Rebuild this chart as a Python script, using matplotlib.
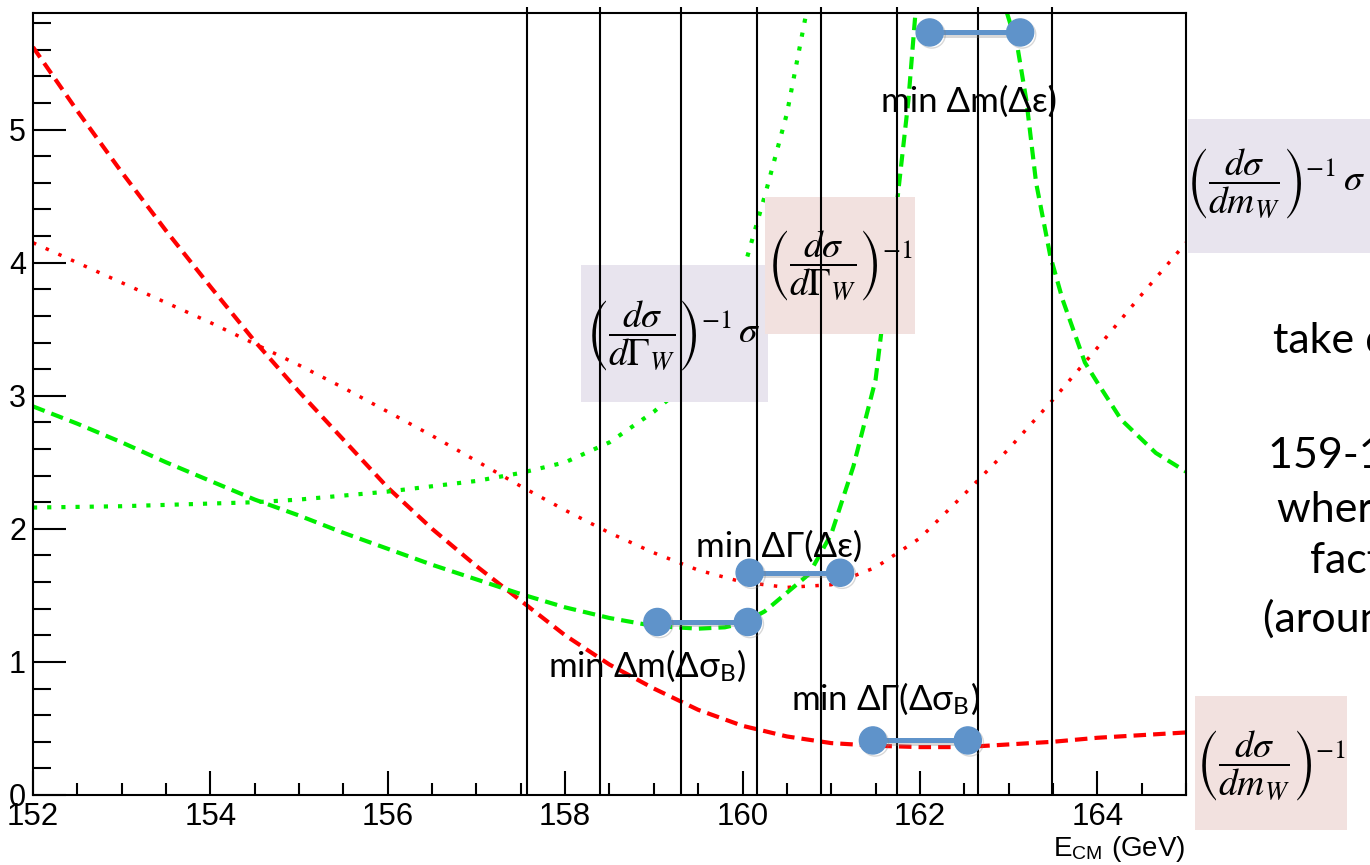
import numpy as np
import matplotlib.pyplot as plt
from matplotlib.patches import Rectangle
import matplotlib.patheffects as pe

plt.rcParams['mathtext.fontset'] = 'stix'

# (d sigma / d m_W)^-1  -- red dashed
x_red_dash = [152, 152.5, 153, 153.5, 154, 154.5, 155, 155.5, 156, 156.5, 157, 157.5, 158,
              158.5, 159, 159.5, 160, 160.5, 161, 161.5, 162, 162.5, 163, 163.5, 164, 164.5, 165]
y_red_dash = [5.62, 5.14, 4.68, 4.24, 3.82, 3.41, 3.03, 2.67, 2.31, 2.00, 1.72, 1.46, 1.20,
              0.98, 0.80, 0.64, 0.52, 0.44, 0.39, 0.37, 0.36, 0.36, 0.38, 0.40, 0.43, 0.45, 0.47]

# (d sigma / d Gamma_W)^-1  -- red dotted
x_red_dot = [152, 152.5, 153, 153.5, 154, 154.5, 155, 155.5, 156, 156.5, 157, 157.5, 158,
             158.5, 159, 159.5, 160, 160.5, 161, 161.5, 162, 162.5, 163, 163.5, 164, 164.5, 165]
y_red_dot = [4.15, 4.00, 3.85, 3.70, 3.55, 3.39, 3.23, 3.06, 2.88, 2.70, 2.51, 2.32, 2.14,
             1.97, 1.82, 1.69, 1.60, 1.56, 1.58, 1.71, 1.93, 2.26, 2.60, 2.97, 3.36, 3.76, 4.15]

# (d sigma / d Gamma_W)^-1 sigma  -- green dotted
x_green_dot = [152, 153, 154, 154.5, 155, 155.5, 156, 156.5, 157, 157.5, 158, 158.5, 159,
               159.25, 159.5, 159.75, 160, 160.25, 160.5, 160.72]
y_green_dot = [2.16, 2.17, 2.19, 2.20, 2.22, 2.25, 2.28, 2.32, 2.36, 2.42, 2.50, 2.65, 2.88,
               3.02, 3.25, 3.55, 3.92, 4.50, 5.12, 5.88]

# (d sigma / d m_W)^-1 sigma  -- green dashed (goes off the top between ~162 and ~163)
x_green_dash = [152, 152.5, 153, 153.5, 154, 154.5, 155, 155.5, 156, 156.5, 157, 157.5, 158,
                158.5, 159, 159.5, 159.8, 160, 160.25, 160.5, 160.75, 161.0, 161.25, 161.5,
                161.75, 161.87, 161.95, 162.5, 162.98, 163.1, 163.2, 163.31, 163.47, 163.61,
                163.86, 164.0, 164.27, 164.66, 165]
y_green_dash = [2.92, 2.79, 2.65, 2.50, 2.36, 2.22, 2.10, 1.97, 1.85, 1.73, 1.62, 1.51, 1.41,
                1.33, 1.27, 1.25, 1.26, 1.29, 1.38, 1.52, 1.66, 1.96, 2.47, 3.12,
                4.50, 5.22, 5.88, np.nan, 5.88, 5.62, 5.22, 4.60, 4.05, 3.72,
                3.25, 3.10, 2.82, 2.57, 2.43]

# vertical scan points
x_scan = [157.57, 158.39, 159.31, 160.16, 160.89, 161.74, 162.65, 163.49]

# "min" intervals
int_labels = ['min Δm(Δε)', 'min ΔΓ(Δε)', r'min Δm(Δσ$_\mathregular{B}$)', r'min ΔΓ(Δσ$_\mathregular{B}$)']
int_lo = [162.11, 160.08, 159.04, 161.47]
int_hi = [163.13, 161.10, 160.06, 162.54]
int_y = [5.73, 1.67, 1.30, 0.41]

xticks = [152, 154, 156, 158, 160, 162, 164]
yticks = [0, 1, 2, 3, 4, 5]

W, H = 1370, 865
fig = plt.figure(figsize=(W / 100, H / 100), dpi=100)
ax = fig.add_axes([33 / W, 1 - 795 / H, (1186 - 33) / W, (795 - 12.5) / H])
ax.set_xlim(152, 165)
ax.set_ylim(0, 5.88)

def fx(px):
    return px / W

def fy(py):
    return 1 - py / H

ax.plot(x_red_dash, y_red_dash, color='#ff0000', lw=3, ls=(0, (3, 1.7)), zorder=2)
ax.plot(x_red_dot, y_red_dot, color='#ff0000', lw=2.5, ls=(0, (1, 3)), zorder=2)
ax.plot(x_green_dot, y_green_dot, color='#00ee00', lw=3, ls=(0, (1, 2.4)), zorder=2)
ax.plot(x_green_dash, y_green_dash, color='#00ee00', lw=3, ls=(0, (3, 1.7)), zorder=2)

# formula boxes
boxes = [(581, 265, 768, 402, '#e8e4ee'), (765, 197, 915, 334, '#f2e1df'),
         (1188, 119, 1370, 253, '#e8e4ee'), (1195, 696, 1347, 830, '#f2e1df')]
for x0, y0, x1, y1, c in boxes:
    ax.add_patch(Rectangle((fx(x0), fy(y1)), (x1 - x0) / W, (y1 - y0) / H,
                           transform=fig.transFigure, facecolor=c, edgecolor='none',
                           clip_on=False, zorder=3))

formulas = [(673, 336, r'$\left(\dfrac{d\sigma}{d\Gamma_W}\right)^{-1}\,\sigma$'),
            (840, 266, r'$\left(\dfrac{d\sigma}{d\Gamma_W}\right)^{-1}$'),
            (1276, 184, r'$\left(\dfrac{d\sigma}{dm_W}\right)^{-1}\,\sigma$'),
            (1271, 766, r'$\left(\dfrac{d\sigma}{dm_W}\right)^{-1}$')]
for px, py, s in formulas:
    ax.text(fx(px), fy(py), s, transform=fig.transFigure, ha='center', va='center',
            fontsize=27, clip_on=False, zorder=4)

ax.vlines(x_scan, 0, 5.925, colors='black', lw=1.5, zorder=5, clip_on=False)

blue = '#5f93ca'
for lo, hi, y in zip(int_lo, int_hi, int_y):
    ax.plot([lo, hi], [y, y], '-o', color=blue, lw=3.6, ms=19.5, zorder=6,
            path_effects=[pe.SimpleLineShadow(offset=(1.5, -1.5), alpha=0.3, shadow_color='gray'),
                          pe.Normal()])

label_pos = [(162.55, 5.13), (160.41, 1.79), (158.93, 0.887), (161.61, 0.64)]
for s, (lx, ly) in zip(int_labels, label_pos):
    ax.text(lx, ly, s, ha='center', va='baseline', fontsize=25,
            family=['Lato', 'DejaVu Sans'], zorder=7)

# side text from the slide (cut off at the right edge)
side = [(1273, 353, 'take data at'), (1268, 468, '159-161 GeV'), (1277, 522, 'where the'),
        (1310, 573, 'factors'), (1263, 632, '(around 160)')]
for px, py, s in side:
    fig.text(fx(px), fy(py), s, ha='left', va='baseline', fontsize=31,
             family=['Lato', 'DejaVu Sans'])

fig.text(fx(1185), fy(856), r'E$_\mathregular{CM}$ (GeV)', ha='right', va='baseline',
         fontsize=20, family='Liberation Sans')

ax.set_xticks(xticks)
ax.set_xticks(np.arange(152, 165.01, 0.5), minor=True)
ax.set_yticks(yticks)
ax.set_yticks(np.arange(0, 5.9, 0.2), minor=True)
ax.tick_params(which='both', direction='in', top=False, right=False, width=1.5)
ax.tick_params(axis='y', which='major', length=24, labelsize=22, pad=5)
ax.tick_params(axis='y', which='minor', length=13)
ax.tick_params(axis='x', which='major', length=17, labelsize=22.5, pad=5)
ax.tick_params(axis='x', which='minor', length=9)
for lab in ax.get_xticklabels() + ax.get_yticklabels():
    lab.set_family('Liberation Sans')
for sp in ax.spines.values():
    sp.set_linewidth(1.5)

fig.savefig('out.png', dpi=100)
